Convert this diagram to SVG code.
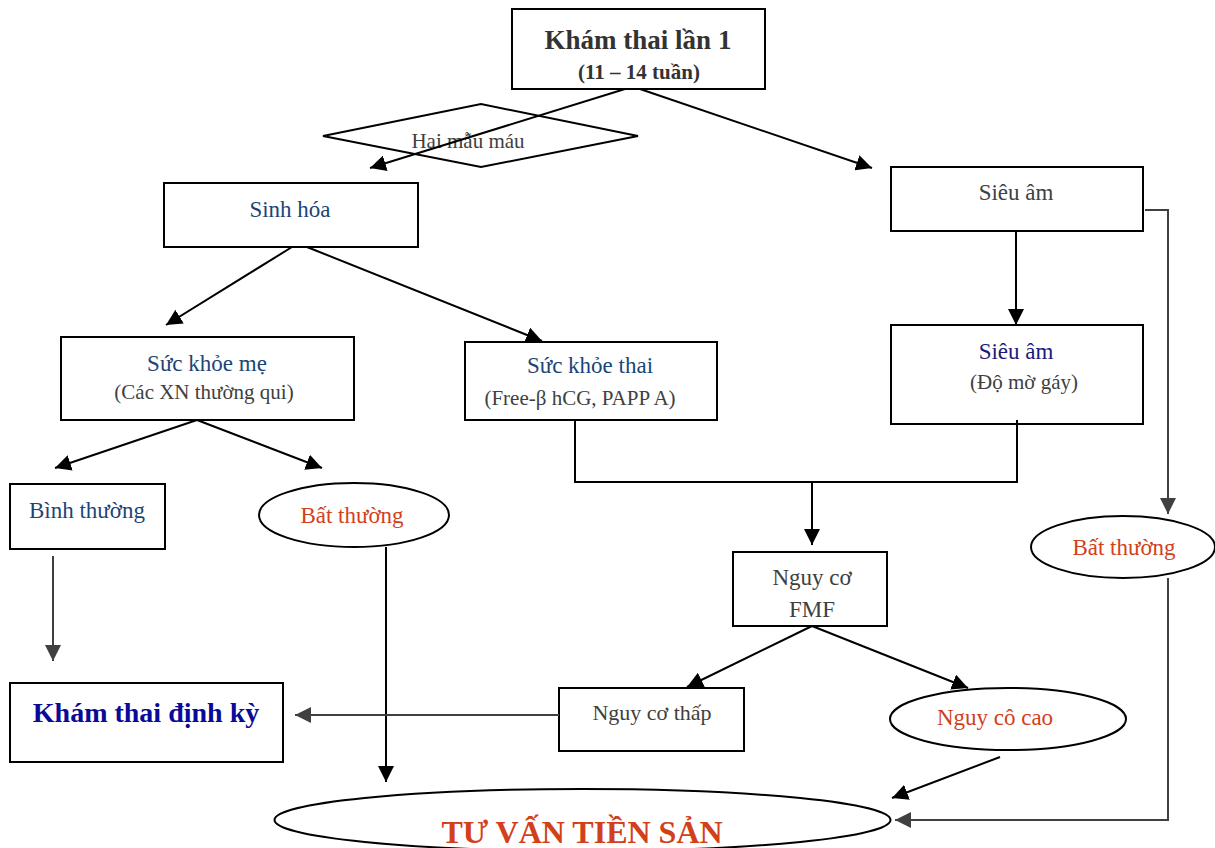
<svg xmlns="http://www.w3.org/2000/svg" width="1215" height="848" viewBox="0 0 1215 848">
<style>
  .box { fill: #ffffff; stroke: #000000; stroke-width: 2; }
  .t { font-family: "Liberation Serif", "Times New Roman", serif; text-anchor: middle; }
  .gray { fill: #404040; }
  .navy { fill: #1b4577; }
  .navy2 { fill: #1a1a7e; }
  .red { fill: #d2401a; }
  .blue { fill: #0a0a99; font-weight: bold; }
  .dark { fill: #333333; font-weight: bold; }
  .c { fill: none; stroke: #000000; stroke-width: 2; }
  .cg { fill: none; stroke: #404040; stroke-width: 2; }
  .ah { marker-end: url(#arr); }
  .ahg { marker-end: url(#arrg); }
</style>
<defs>
  <marker id="arr" markerUnits="userSpaceOnUse" markerWidth="18" markerHeight="16" refX="16" refY="8" orient="auto">
    <path d="M0,0 L16,8 L0,16 z" fill="#000000"/>
  </marker>
  <marker id="arrg" markerUnits="userSpaceOnUse" markerWidth="18" markerHeight="16" refX="16" refY="8" orient="auto">
    <path d="M0,0 L16,8 L0,16 z" fill="#404040"/>
  </marker>
</defs>
<rect width="1215" height="848" fill="#ffffff"/>

<g id="node-title">
  <rect class="box" x="512" y="9" width="253" height="80"/>
  <text class="t dark" x="638" y="49" font-size="27">Khám thai lần 1</text>
  <text class="t dark" x="639" y="79" font-size="21">(11 – 14 tuần)</text>
</g>
<g id="node-haimau">
  <polygon class="box" points="323,136 481,104 638,136 481,167"/>
  <text class="t gray" x="468" y="148" font-size="21">Hai mẫu máu</text>
</g>
<g id="node-sinhhoa">
  <rect class="box" x="164" y="183" width="254" height="64"/>
  <text class="t navy" x="290" y="217" font-size="23">Sinh hóa</text>
</g>
<g id="node-sieuam1">
  <rect class="box" x="891" y="167" width="252" height="64"/>
  <text class="t gray" x="1016" y="200" font-size="23">Siêu âm</text>
</g>
<g id="node-suckhoeme">
  <rect class="box" x="61" y="337" width="293" height="83"/>
  <text class="t navy" x="207" y="371" font-size="23">Sức khỏe mẹ</text>
  <text class="t gray" x="204" y="399" font-size="21">(Các XN thường qui)</text>
</g>
<g id="node-suckhoethai">
  <rect class="box" x="465" y="342" width="252" height="78"/>
  <text class="t navy" x="590" y="373" font-size="23">Sức khỏe thai</text>
  <text class="t gray" x="580" y="405" font-size="21">(Free-β hCG, PAPP A)</text>
</g>
<g id="node-sieuam2">
  <rect class="box" x="891" y="325" width="252" height="99"/>
  <text class="t navy2" x="1016" y="359" font-size="23">Siêu âm</text>
  <text class="t gray" x="1024" y="389" font-size="21">(Độ mờ gáy)</text>
</g>
<g id="node-binhthuong">
  <rect class="box" x="10" y="484" width="155" height="65"/>
  <text class="t navy" x="87" y="518" font-size="23">Bình thường</text>
</g>
<g id="node-batthuong1">
  <ellipse class="box" cx="354" cy="515" rx="95" ry="32"/>
  <text class="t red" x="352" y="523" font-size="23">Bất thường</text>
</g>
<g id="node-batthuong2">
  <ellipse class="box" cx="1123" cy="547" rx="92" ry="31"/>
  <text class="t red" x="1124" y="555" font-size="23">Bất thường</text>
</g>
<g id="node-fmf">
  <rect class="box" x="733" y="552" width="154" height="74"/>
  <text class="t gray" x="812" y="585" font-size="23">Nguy cơ</text>
  <text class="t gray" x="812" y="617" font-size="23">FMF</text>
</g>
<g id="node-thap">
  <rect class="box" x="559" y="688" width="185" height="63"/>
  <text class="t gray" x="652" y="720" font-size="22">Nguy cơ thấp</text>
</g>
<g id="node-cao">
  <ellipse class="box" cx="1008" cy="719" rx="118" ry="31"/>
  <text class="t red" x="995" y="725" font-size="23">Nguy cô cao</text>
</g>
<g id="node-dinhky">
  <rect class="box" x="10" y="683" width="273" height="79"/>
  <text class="t blue" x="146" y="722" font-size="28">Khám thai định kỳ</text>
</g>
<g id="node-tuvan">
  <ellipse class="box" cx="582.5" cy="820" rx="308" ry="31"/>
  <text class="t red" x="582" y="843" font-size="32" font-weight="bold">TƯ VẤN TIỀN SẢN</text>
</g>

<g id="connectors">
  <line class="c ah" x1="625" y1="89" x2="370" y2="168"/>
  <line class="c ah" x1="640" y1="89" x2="872" y2="168"/>
  <line class="c ah" x1="1016" y1="231" x2="1016" y2="325"/>
  <polyline class="cg ahg" points="1145,210 1168,210 1168,514"/>
  <line class="c ah" x1="292" y1="247" x2="166" y2="325"/>
  <line class="c ah" x1="307" y1="247" x2="542" y2="341"/>
  <line class="c ah" x1="197" y1="420" x2="55" y2="468"/>
  <line class="c ah" x1="197" y1="420" x2="322" y2="468"/>
  <line class="cg ahg" x1="53" y1="556" x2="53" y2="661"/>
  <line class="c ah" x1="386" y1="547" x2="386" y2="782"/>
  <polyline class="c" points="575,420 575,482 1017,482 1017,420"/>
  <line class="c ah" x1="812" y1="482" x2="812" y2="545"/>
  <line class="c ah" x1="812" y1="626" x2="687" y2="687"/>
  <line class="c ah" x1="812" y1="626" x2="968" y2="688"/>
  <line class="cg ahg" x1="559" y1="715" x2="295" y2="715"/>
  <line class="c ah" x1="1000" y1="757" x2="892" y2="798"/>
  <polyline class="cg ahg" points="1168,578 1168,820 895,820"/>
</g>
</svg>
